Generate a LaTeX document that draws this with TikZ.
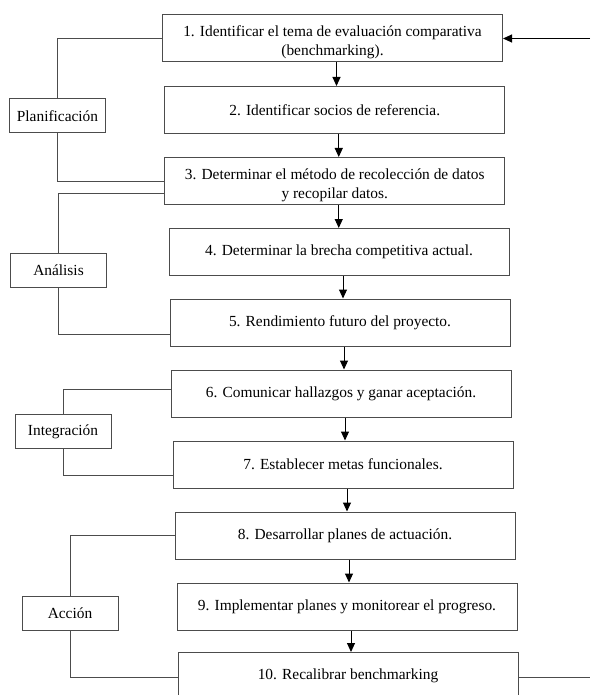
\documentclass[tikz,border=0pt]{standalone}
\usepackage{fontspec}
\setmainfont{Liberation Serif}
\usetikzlibrary{arrows.meta, calc}

\begin{document}
\begin{tikzpicture}[
        x=1pt, y=-1pt,
        every node/.style={font=\fontsize{15.4}{19}\selectfont},
        box/.style={draw=black!70, line width=1pt, minimum width=340pt, minimum height=47pt, align=center, inner sep=2pt},
        phase/.style={draw=black!70, line width=1pt, minimum width=96pt, minimum height=34pt, inner sep=2pt},
        arr/.style={-{Triangle[length=9pt, width=8pt]}, line width=1pt},
        flow/.style={arr, transform canvas={xshift=4pt}},
        link/.style={draw=black!70, line width=1pt}
    ]
        \useasboundingbox (0,0) rectangle (590,695);
        \clip (0,0) rectangle (590,695);

        \node[box] (b1) at (332.5,38.5) {\rule{0pt}{19pt}1. Identificar el tema de evaluación comparativa \\ (benchmarking).};
        \node[box] (b2) at (334.75,110) {2. Identificar socios de referencia.};
        \node[box] (b3) at (334.75,181) {\rule{0pt}{19pt}3. Determinar el método de recolección de datos \\ y recopilar datos.};
        \node[box] (b4) at (339,252) {4. Determinar la brecha competitiva actual.};
        \node[box] (b5) at (340,322.5) {5. Rendimiento futuro del proyecto.};
        \node[box] (b6) at (341,393.5) {6. Comunicar hallazgos y ganar aceptación.};
        \node[box] (b7) at (343,464.5) {7. Establecer metas funcionales.};
        \node[box] (b8) at (345,535.5) {8. Desarrollar planes de actuación.};
        \node[box] (b9) at (347,606.5) {9. Implementar planes y monitorear el progreso.};
        \node[box] (b10) at (348,676) {10. Recalibrar benchmarking};

        \node[phase] (plan) at (57.5,116) {Planificación};
        \node[phase] (anal) at (58.5,270) {Análisis};
        \node[phase] (integ) at (63,431.5) {Integración};
        \node[phase] (accion) at (70,613.5) {Acción};

        \coordinate (back) at (590,38.5);
        \coordinate (out) at (590,677);

        \draw[flow] (b1.south) -- (b1.south |- b2.north);
        \draw[flow] (b2.south) -- (b2.south |- b3.north);
        \draw[flow] (b3.south) -- (b3.south |- b4.north);
        \draw[flow] (b4.south) -- (b4.south |- b5.north);
        \draw[flow] (b5.south) -- (b5.south |- b6.north);
        \draw[flow] (b6.south) -- (b6.south |- b7.north);
        \draw[flow] (b7.south) -- (b7.south |- b8.north);
        \draw[flow] (b8.south) -- (b8.south |- b9.north);
        \draw[flow] (b9.south) -- (b9.south |- b10.north);
        \draw[arr] (back) -- (b1.east);
        \draw[link] (b10.east |- out) -- (out);

        \draw[link] (b1.west) -| (plan.north);
        \draw[link] (plan.south) |- (b3.west);
        \draw[link] ($(b3.west)+(0,12)$) -| (anal.north);
        \draw[link] (anal.south) |- ($(b5.west)+(0,11.5)$);
        \draw[link] ($(b6.west)+(0,-4.5)$) -| (integ.north);
        \draw[link] (integ.south) |- ($(b7.west)+(0,10.5)$);
        \draw[link] (b8.west) -| (accion.north);
        \draw[link] (accion.south) |- ($(b10.west)+(0,1)$);
    \end{tikzpicture}
\end{document}
